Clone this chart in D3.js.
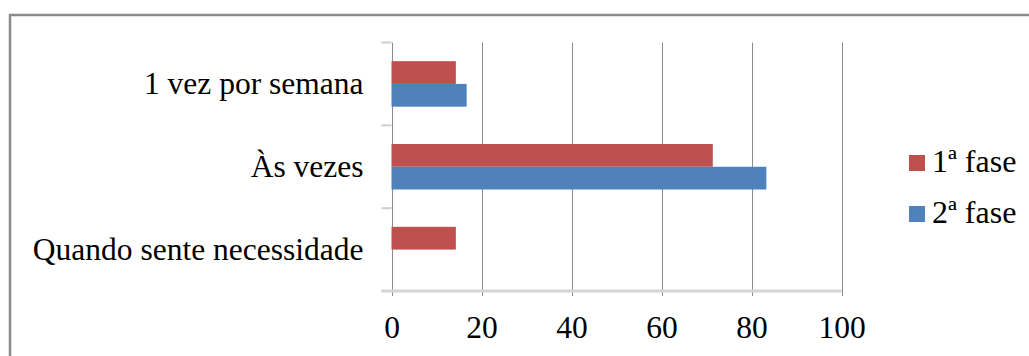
<!DOCTYPE html>
<html>
<head>
<meta charset="utf-8">
<script src="https://cdn.jsdelivr.net/npm/d3@7"></script>
<style>
  html, body { margin: 0; padding: 0; background: #fff; }
  svg { display: block; }
  text { font-family: "Liberation Serif", "Times New Roman", serif; fill: #000; }
</style>
</head>
<body>
<svg id="chart" width="1029" height="356"></svg>
<script>
// Frequency categories, top to bottom
const categories = ["1 vez por semana", "Às vezes", "Quando sente necessidade"];
// Series names and colours
const seriesNames = ["1ª fase", "2ª fase"];
const seriesColors = ["#C0504D", "#4F81BD"];
// Percentages per category for each phase
const fase1 = [14.3, 71.4, 14.3];
const fase2 = [16.7, 83.3, 0];
// Value axis ticks
const xTicks = [0, 20, 40, 60, 80, 100];

const FONT = '"Liberation Serif", "Times New Roman", serif';
const svg = d3.select("#chart");
const W = 1029, H = 356;

// Outer frame (only top and left edges fall inside the view)
svg.append("path")
  .attr("d", `M10,${H} L10,15 L${W},15`)
  .attr("fill", "none")
  .attr("stroke", "#8a8a8a")
  .attr("stroke-width", 2.5);

const plot = { left: 391.5, right: 841.5, top: 42.5, bottom: 291 };

const x = d3.scaleLinear().domain([0, 100]).range([plot.left, plot.right]);
const y = d3.scaleBand().domain(categories).range([plot.top, plot.bottom]).padding(0);
const ySeries = d3.scaleBand().domain(seriesNames).range([0, y.bandwidth()])
  .paddingInner(0).paddingOuter(0.82);

// Vertical gridlines, extending a little below the axis as ticks
svg.append("g")
  .selectAll("line")
  .data(xTicks)
  .join("line")
  .attr("x1", d => Math.round(x(d)) + 0.5)
  .attr("x2", d => Math.round(x(d)) + 0.5)
  .attr("y1", plot.top)
  .attr("y2", plot.bottom + 5)
  .attr("stroke", "#8c8c8c")
  .attr("stroke-width", 1);

// Category tick marks on the left
const catEdges = [plot.top].concat(categories.map(c => y(c) + y.bandwidth()));
svg.append("g")
  .selectAll("line")
  .data(catEdges)
  .join("line")
  .attr("x1", plot.left - 10)
  .attr("x2", plot.left)
  .attr("y1", d => d)
  .attr("y2", d => d)
  .attr("stroke", "#cfcfcf")
  .attr("stroke-width", 2);

// Bars
const rows = categories.map((c, i) => ({ cat: c, values: [fase1[i], fase2[i]] }));
const groups = svg.append("g")
  .selectAll("g")
  .data(rows)
  .join("g")
  .attr("transform", d => `translate(0,${y(d.cat)})`);

groups.selectAll("rect")
  .data(d => d.values.map((v, j) => ({ v, s: seriesNames[j], color: seriesColors[j] })))
  .join("rect")
  .attr("x", x(0))
  .attr("y", d => ySeries(d.s))
  .attr("width", d => x(d.v) - x(0))
  .attr("height", ySeries.bandwidth())
  .attr("fill", d => d.color);

// Bottom axis baseline
svg.append("line")
  .attr("x1", plot.left - 10)
  .attr("x2", plot.right)
  .attr("y1", plot.bottom)
  .attr("y2", plot.bottom)
  .attr("stroke", "#d4d4d4")
  .attr("stroke-width", 3);

// Value axis labels
const xAxis = d3.axisBottom(x).tickValues(xTicks).tickSize(0).tickPadding(0);
const xg = svg.append("g")
  .attr("transform", `translate(0,${plot.bottom})`)
  .call(xAxis);
xg.select(".domain").remove();
xg.selectAll("text")
  .attr("y", 47)
  .attr("dy", 0)
  .style("font-family", FONT)
  .style("font-size", "31.5px")
  .attr("fill", "#000");

// Category labels
const yAxis = d3.axisLeft(y).tickSize(0).tickPadding(28);
const yg = svg.append("g")
  .attr("transform", `translate(${plot.left},0)`)
  .call(yAxis);
yg.select(".domain").remove();
yg.selectAll("text")
  .attr("dy", "0.32em")
  .style("font-family", FONT)
  .style("font-size", "31.5px")
  .attr("fill", "#000");

// Legend
const legend = svg.append("g")
  .selectAll("g")
  .data(seriesNames)
  .join("g")
  .attr("transform", (d, i) => `translate(909,${155 + i * 51})`);
legend.append("rect")
  .attr("width", 16)
  .attr("height", 16)
  .attr("fill", (d, i) => seriesColors[i]);
legend.append("text")
  .attr("x", 23)
  .attr("y", 17)
  .style("font-family", FONT)
  .style("font-size", "32px")
  .text(d => d);
</script>
</body>
</html>
